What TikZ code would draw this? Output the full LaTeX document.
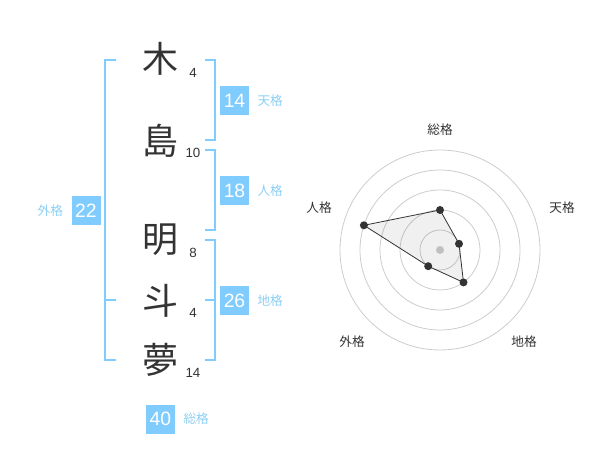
\documentclass[tikz,border=0pt]{standalone}
\usepackage{fontspec}
\setmainfont{Liberation Sans}
\newfontfamily\jp{Noto Sans CJK JP}
\usepackage{tikz}
\usetikzlibrary{positioning}
\definecolor{boxblue}{HTML}{80CCFF}
\definecolor{lblblue}{HTML}{8CCFF5}
\definecolor{ink}{HTML}{333333}
\definecolor{ring}{HTML}{CCCCCC}

\begin{document}
\begin{tikzpicture}[x=0.75pt, y=-0.75pt,
        kanji/.style={inner sep=0pt, text=ink, font=\jp\fontsize{27}{27}\selectfont},
        strokes/.style={inner sep=0pt, text=ink, font=\fontsize{10}{10}\selectfont},
        score/.style={fill=boxblue, text=white, inner sep=0pt, minimum size=21.75pt, font=\fontsize{14.5}{14.5}\selectfont},
        kaku/.style={inner sep=0pt, text=lblblue, font=\jp\fontsize{9.5}{9.5}\selectfont},
        axis/.style={inner sep=0pt, text=ink, font=\jp\fontsize{9.5}{9.5}\selectfont},
        dot/.style={circle, fill=ink, inner sep=0pt, minimum size=6pt},
        bracket/.style={draw=boxblue, line width=1.5pt}]
        \useasboundingbox (0,0) rectangle (600,470);

        \node[kanji] (k1) at (160, 59) {木};
        \node[kanji] (k2) at (160, 141) {島};
        \node[kanji] (k3) at (160, 240) {明};
        \node[kanji] (k4) at (160, 301) {斗};
        \node[kanji] (k5) at (160, 360) {夢};

        \node[strokes] (n1) at (193, 73) {4};
        \node[strokes] (n2) at (193, 153) {10};
        \node[strokes] (n3) at (193, 253) {8};
        \node[strokes] (n4) at (193, 313) {4};
        \node[strokes] (n5) at (193, 373) {14};

        \draw[bracket] (116, 60) -- (105, 60) -- (105, 360) -- (116, 360);
        \draw[bracket] (105, 300) -- (116, 300);
        \draw[bracket] (205, 60) -- (214.5, 60) -- (214.5, 140) -- (205, 140);
        \draw[bracket] (205, 150) -- (214.5, 150) -- (214.5, 230) -- (205, 230);
        \draw[bracket] (205, 240) -- (214.5, 240) -- (214.5, 360) -- (205, 360);
        \draw[bracket] (205, 300) -- (214.5, 300);

        \node[score] (ten) at (234.5, 100.5) {14};
        \node[kaku, right=6pt of ten] (tenl) {天格};
        \node[score] (jin) at (234.5, 190.5) {18};
        \node[kaku, right=6pt of jin] (jinl) {人格};
        \node[score] (chi) at (234.5, 300.5) {26};
        \node[kaku, right=6pt of chi] (chil) {地格};
        \node[score] (gai) at (86, 210.5) {22};
        \node[kaku, left=6pt of gai] (gail) {外格};
        \node[score] (so) at (160.5, 419) {40};
        \node[kaku, right=6pt of so] (sol) {総格};

        % radar
        \foreach \r in {20, 40, 60, 80, 100}
            \draw[ring, line width=0.6pt] (440, 250) circle[radius=\r];
        \node[circle, fill=ring, inner sep=0pt, minimum size=6pt] (c) at (440, 250) {};

        \coordinate (p1) at (440, 210);
        \coordinate (p2) at (459, 243.8);
        \coordinate (p3) at (463.5, 282.4);
        \coordinate (p4) at (428.2, 266.2);
        \coordinate (p5) at (363.9, 225.3);
        \fill[black, opacity=0.06] (p1) -- (p2) -- (p3) -- (p4) -- (p5) -- cycle;
        \draw[ink, line width=0.6pt] (p1) -- (p2) -- (p3) -- (p4) -- (p5) -- cycle;
        \foreach \p in {p1, p2, p3, p4, p5}
            \node[dot] at (\p) {};

        \node[axis] (a1) at (440, 130) {総格};
        \node[axis] (a2) at (562, 208) {天格};
        \node[axis] (a3) at (524, 342) {地格};
        \node[axis] (a4) at (352, 342) {外格};
        \node[axis] (a5) at (319, 208) {人格};
    \end{tikzpicture}
\end{document}
